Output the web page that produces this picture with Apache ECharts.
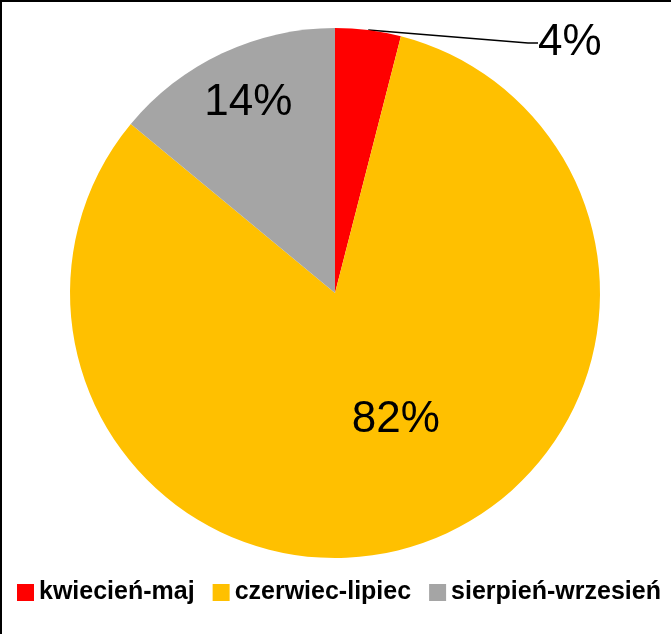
<!DOCTYPE html>
<html>
<head>
<meta charset="utf-8">
<script src="https://cdn.jsdelivr.net/npm/echarts@6/dist/echarts.min.js"></script>
<style>
  html, body { margin: 0; padding: 0; background: #fff; }
  #chart { width: 671px; height: 634px; box-sizing: border-box; border-left: 2px solid #000; border-top: 2px solid #000; }
</style>
</head>
<body>
<div id="chart"></div>
<script>
(function(){
  // okresy i udzialy procentowe
  const categories = ["kwiecień-maj", "czerwiec-lipiec", "sierpień-wrzesień"];
  const values = [4, 82, 14];
  const colors = ["#FF0000", "#FFC000", "#A5A5A5"];

  const chart = echarts.init(document.getElementById("chart"));

  const pctFont = "'Liberation Sans', Arial, sans-serif";

  const option = {
    animation: false,
    color: colors,
    legend: {
      left: 15,
      top: 578,
      padding: 0,
      itemWidth: 17,
      itemHeight: 17,
      itemGap: 18,
      icon: "rect",
      textStyle: { fontFamily: "'Liberation Sans', Arial, sans-serif", fontWeight: "bold", fontSize: 25, color: "#000" },
      data: categories
    },
    series: [{
      type: "pie",
      center: [333, 291],
      radius: 265,
      startAngle: 90,
      clockwise: true,
      avoidLabelOverlap: false,
      itemStyle: { borderWidth: 0 },
      label: {
        show: true,
        position: "inside",
        formatter: "{d}%",
        fontFamily: pctFont,
        fontSize: 44,
        color: "#000"
      },
      labelLine: { show: false },
      labelLayout: function (p) {
        if (p.dataIndex === 0) return { x: 536, y: 41, align: "left", verticalAlign: "middle" };
        if (p.dataIndex === 1) return { dx: 19, dy: -2 };
        return { dx: -29, dy: -68 };
      },
      data: categories.map((c, i) => {
        const d = { name: c, value: values[i] };
        if (i === 0) {
          d.label = { position: "outside" };
          d.labelLine = { show: true, length: 10, length2: 10, lineStyle: { color: "#000", width: 1.5 } };
        }
        return d;
      })
    }]
  };

  chart.setOption(option);
  window.addEventListener("resize", () => chart.resize());
})();
</script>
</body>
</html>
